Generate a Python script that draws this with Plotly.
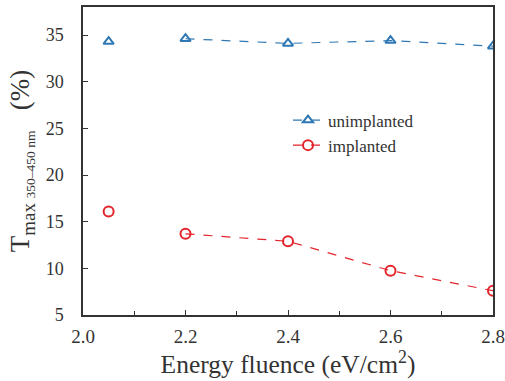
import plotly.graph_objects as go

fluence = [2.05, 2.2, 2.4, 2.6, 2.8]
unimplanted = [34.3, 34.6, 34.1, 34.4, 33.8]
implanted = [16.1, 13.7, 12.9, 9.75, 7.6]
x_ticks = [2.0, 2.2, 2.4, 2.6, 2.8]
y_ticks = [5, 10, 15, 20, 25, 30, 35]

blue = "#2F78B4"
red = "#E3242B"
font = "Liberation Serif"

fig = go.Figure()
# first points (not connected)
fig.add_trace(go.Scatter(x=fluence[:1], y=unimplanted[:1], mode="markers",
                         marker=dict(symbol="triangle-up-open", size=9, color=blue, line=dict(width=2)),
                         showlegend=False))
fig.add_trace(go.Scatter(x=fluence[:1], y=implanted[:1], mode="markers",
                         marker=dict(symbol="circle-open", size=10, color=red, line=dict(width=2)),
                         showlegend=False))
fig.add_trace(go.Scatter(x=fluence[1:], y=unimplanted[1:], mode="lines+markers", name="unimplanted",
                         line=dict(color=blue, width=1.2, dash="dash"),
                         marker=dict(symbol="triangle-up-open", size=9, color=blue, line=dict(width=2))))
fig.add_trace(go.Scatter(x=fluence[1:], y=implanted[1:], mode="lines+markers", name="implanted",
                         line=dict(color=red, width=1.2, dash="dash"),
                         marker=dict(symbol="circle-open", size=10, color=red, line=dict(width=2))))

axis_common = dict(showgrid=False, zeroline=False, showline=True, linecolor="#333", linewidth=1.5,
                   mirror=True, ticks="inside", tickcolor="#333", ticklen=5, automargin=False)

fig.update_layout(
    width=505, height=381,
    margin=dict(l=83, r=12, t=7, b=66),
    paper_bgcolor="white", plot_bgcolor="white",
    font=dict(family=font, color="#333"),
    xaxis=dict(range=[2.0, 2.8], tickvals=x_ticks, ticktext=[f"{v:.1f}" for v in x_ticks],
               minor=dict(ticks="inside", dtick=0.1, ticklen=4, tickcolor="#333"),
               tickfont=dict(family=font, size=19, color="#333"), ticklabelstandoff=3,
               title=dict(text="Energy fluence (eV/cm<sup>2</sup>)", font=dict(family=font, size=25.5, color="#333"),
                          standoff=0),
               **axis_common),
    yaxis=dict(range=[5, 38], tickvals=y_ticks,
               tickfont=dict(family=font, size=18, color="#333"), ticklabelstandoff=14,
               title=dict(text="T<sub>max\u00a0</sub><sub><span style='font-size:13.5px'>350–450 nm</span></sub>\u00a0\u00a0\u00a0(%)\u00a0\u00a0",
                          font=dict(family=font, size=27, color="#333"), standoff=8),
               **axis_common),
    legend=dict(x=0.5, y=0.69, xanchor="left", yanchor="top", bgcolor="rgba(0,0,0,0)",
                font=dict(family=font, size=17, color="#333"), tracegroupgap=0, itemwidth=30),
)

fig.write_html("out.html", config={"displayModeBar": False},
               post_script="document.body.style.margin='0';document.body.style.overflow='hidden';")
